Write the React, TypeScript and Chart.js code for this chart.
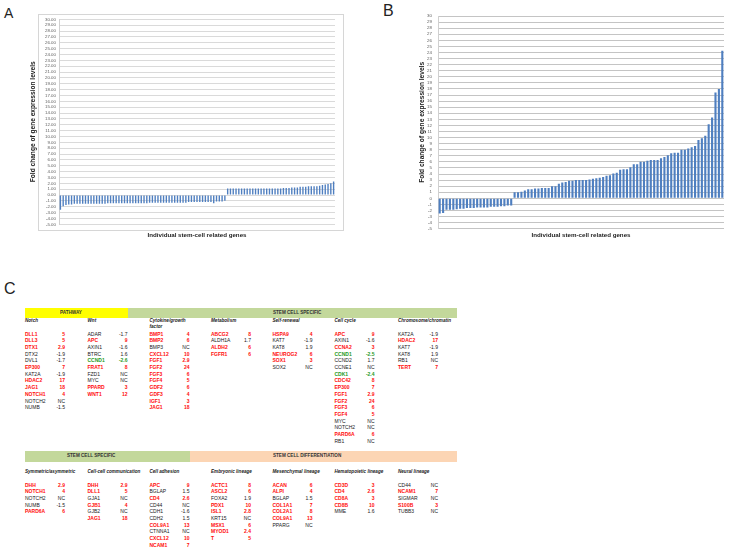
import React, { useEffect, useRef } from "react";
import { Chart, registerables } from "chart.js";

Chart.register(...registerables);

// ---------- DATA: panel A (fold changes, sorted) ----------
const aNegative = [
  -2.5, -1.9, -1.7, -1.6, -1.6, -1.5, -1.5, -1.5, -1.5, -1.5, -1.5, -1.5, -1.5, -1.5, -1.5,
  -1.5, -1.5, -1.4, -1.4, -1.4, -1.4, -1.4, -1.4, -1.4, -1.4, -1.4, -1.4, -1.4, -1.4, -1.4,
  -1.4, -1.4, -1.3, -1.3, -1.3, -1.3, -1.3, -1.3, -1.3, -1.3, -1.3, -1.3, -1.3, -1.3, -1.3,
  -1.3, -1.2, -1.2, -1.2, -1.2, -1.2, -1.2, -1.2, -1.2, -1.2, -1.4, -1.1, -1.1, -1.1, -1.0,
];
const aPositive = [
  1.1, 1.1, 1.1, 1.1, 1.1, 1.1, 1.1, 1.1, 1.1, 1.1, 1.1, 1.1, 1.1, 1.1, 1.1, 1.1, 1.1, 1.1,
  1.1, 1.1, 1.2, 1.2, 1.2, 1.3, 1.3, 1.3, 1.4, 1.4, 1.4, 1.5, 1.5, 1.5, 1.5, 1.6, 1.7, 1.8,
  1.9, 2.0, 2.3,
];

// ---------- DATA: panel B ----------
const bNegative = [
  -2.5, -2.4, -1.9, -1.9, -1.9, -1.8, -1.7, -1.7, -1.6, -1.6, -1.6, -1.5, -1.5, -1.5, -1.5,
  -1.4, -1.4, -1.4, -1.3, -1.3, -1.2, -1.2,
];
const bPositive = [
  1.0, 1.0, 1.1, 1.3, 1.5, 1.5, 1.6, 1.6, 1.7, 1.7, 1.7, 2.0, 2.0, 2.4, 2.6, 2.7, 2.9, 2.9,
  3.0, 3.0, 3.0, 3.0, 3.1, 3.2, 3.3, 3.4, 3.5, 3.7, 3.8, 4.1, 4.2, 4.7, 4.8, 4.8, 5.1, 5.6,
  5.6, 6.0, 6.0, 6.2, 6.3, 6.3, 6.3, 6.6, 6.8, 7.1, 7.4, 7.5, 7.5, 8.0, 8.0, 8.2, 8.4, 8.6,
  9.6, 9.9, 10.3, 12.2, 13.3, 17.4, 18.0, 24.3,
];

const yMin = -5;
const yMax = 30;
const yTitle = "Fold change of gene expression levels";
const xTitle = "Individual stem-cell related genes";

// ---------- DATA: panel C table ----------
type Row = [string, string, string]; // gene, value, colour: r / g / k
const notch: Row[] = [
  ["DLL1", "5", "r"], ["DLL3", "5", "r"], ["DTX1", "2.9", "r"], ["DTX2", "-1.9", "k"],
  ["DVL1", "-1.7", "k"], ["EP300", "7", "r"], ["KAT2A", "-1.9", "k"], ["HDAC2", "17", "r"],
  ["JAG1", "18", "r"], ["NOTCH1", "4", "r"], ["NOTCH2", "NC", "k"], ["NUMB", "-1.5", "k"],
];
const wnt: Row[] = [
  ["ADAR", "-1.7", "k"], ["APC", "9", "r"], ["AXIN1", "-1.6", "k"], ["BTRC", "1.6", "k"],
  ["CCND1", "-2.6", "g"], ["FRAT1", "8", "r"], ["FZD1", "NC", "k"], ["MYC", "NC", "k"],
  ["PPARD", "3", "r"], ["WNT1", "12", "r"],
];
const cytokine: Row[] = [
  ["BMP1", "4", "r"], ["BMP2", "6", "r"], ["BMP3", "NC", "k"], ["CXCL12", "10", "r"],
  ["FGF1", "2.9", "r"], ["FGF2", "24", "r"], ["FGF3", "6", "r"], ["FGF4", "5", "r"],
  ["GDF2", "6", "r"], ["GDF3", "4", "r"], ["IGF1", "3", "r"], ["JAG1", "18", "r"],
];
const metabolism: Row[] = [
  ["ABCG2", "8", "r"], ["ALDH1A", "1.7", "k"], ["ALDH2", "6", "r"], ["FGFR1", "6", "r"],
];
const selfRenewal: Row[] = [
  ["HSPA9", "4", "r"], ["KAT7", "-1.9", "k"], ["KAT8", "1.9", "k"], ["NEUROG2", "6", "r"],
  ["SOX1", "3", "r"], ["SOX2", "NC", "k"],
];
const cellCycle: Row[] = [
  ["APC", "9", "r"], ["AXIN1", "-1.6", "k"], ["CCNA2", "3", "r"], ["CCND1", "-2.5", "g"],
  ["CCND2", "1.7", "k"], ["CCNE1", "NC", "k"], ["CDK1", "-2.4", "g"], ["CDC42", "8", "r"],
  ["EP300", "7", "r"], ["FGF1", "2.9", "r"], ["FGF2", "24", "r"], ["FGF3", "6", "r"],
  ["FGF4", "5", "r"], ["MYC", "NC", "k"], ["NOTCH2", "NC", "k"], ["PARD6A", "6", "r"],
  ["RB1", "NC", "k"],
];
const chromatin: Row[] = [
  ["KAT2A", "-1.9", "k"], ["HDAC2", "17", "r"], ["KAT7", "-1.9", "k"], ["KAT8", "1.9", "k"],
  ["RB1", "NC", "k"], ["TERT", "7", "r"],
];
const symmetric: Row[] = [
  ["DHH", "2.9", "r"], ["NOTCH1", "4", "r"], ["NOTCH2", "NC", "k"], ["NUMB", "-1.5", "k"],
  ["PARD6A", "6", "r"],
];
const cellComm: Row[] = [
  ["DHH", "2.9", "r"], ["DLL1", "5", "r"], ["GJA1", "NC", "k"], ["GJB1", "4", "r"],
  ["GJB2", "NC", "k"], ["JAG1", "18", "r"],
];
const adhesion: Row[] = [
  ["APC", "9", "r"], ["BGLAP", "1.5", "k"], ["CD4", "2.6", "r"], ["CD44", "NC", "k"],
  ["CDH1", "-1.6", "k"], ["CDH2", "1.5", "k"], ["COL9A1", "13", "r"], ["CTNNA1", "NC", "k"],
  ["CXCL12", "10", "r"], ["NCAM1", "7", "r"],
];
const embryonic: Row[] = [
  ["ACTC1", "8", "r"], ["ASCL2", "6", "r"], ["FOXA2", "1.9", "k"], ["PDX1", "10", "r"],
  ["ISL1", "2.8", "r"], ["KRT15", "NC", "k"], ["MSX1", "6", "r"], ["MYOD1", "2.4", "r"],
  ["T", "5", "r"],
];
const mesenchymal: Row[] = [
  ["ACAN", "6", "r"], ["ALPI", "4", "r"], ["BGLAP", "1.5", "k"], ["COL1A1", "7", "r"],
  ["COL2A1", "8", "r"], ["COL9A1", "13", "r"], ["PPARG", "NC", "k"],
];
const hematopoietic: Row[] = [
  ["CD3D", "3", "r"], ["CD4", "2.6", "r"], ["CD8A", "3", "r"], ["CD8B", "10", "r"],
  ["MME", "1.6", "k"],
];
const neural: Row[] = [
  ["CD44", "NC", "k"], ["NCAM1", "7", "r"], ["SIGMAR", "NC", "k"], ["S100B", "3", "r"],
  ["TUBB3", "NC", "k"],
];

const block1Titles = [["Notch"], ["Wnt"], ["Cytokine/growth", "factor"], ["Metabolism"], ["Self-renewal"], ["Cell cycle"], ["Chromosome/chromatin"]];
const block1Rows = [notch, wnt, cytokine, metabolism, selfRenewal, cellCycle, chromatin];
const block2Titles = [["Symmetric/asymmetric"], ["Cell-cell communication"], ["Cell adhesion"], ["Embryonic lineage"], ["Mesenchymal lineage"], ["Hematopoietic lineage"], ["Neural lineage"]];
const block2Rows = [symmetric, cellComm, adhesion, embryonic, mesenchymal, hematopoietic, neural];

// ---------- STYLE ----------
const BAR = "#4f7fc0";
const FONT = "'Liberation Sans', Arial, sans-serif";
const COLS = [25, 87.5, 149.5, 211, 272.5, 334.5, 398];
const COLORS: Record<string, string> = { r: "#ff0d0d", g: "#1e9a1e", k: "#1a1a1a" };

type ChartSpec = {
  values: number[];
  w: number; h: number;
  pad: { left: number; right: number; top: number; bottom: number };
  yW: number; xH: number;
  barPct: number;
  gridColor: string;
  tickPad: number;
  fmt: (v: number) => string;
};

function BarChart({ spec, style }: { spec: ChartSpec; style: React.CSSProperties }) {
  const ref = useRef<HTMLCanvasElement | null>(null);
  useEffect(() => {
    if (!ref.current) return;
    const chart = new Chart(ref.current, {
      type: "bar",
      data: {
        labels: spec.values.map((_, i) => String(i + 1)),
        datasets: [
          {
            data: spec.values,
            backgroundColor: BAR,
            borderWidth: 0,
            barPercentage: spec.barPct,
            categoryPercentage: 1,
          },
        ],
      },
      options: {
        animation: false,
        responsive: false,
        maintainAspectRatio: false,
        layout: { padding: spec.pad },
        plugins: { legend: { display: false }, tooltip: { enabled: false } },
        scales: {
          x: {
            grid: { display: false, drawTicks: false },
            border: { display: false },
            ticks: { display: false },
            title: {
              display: true,
              text: xTitle,
              color: "#222",
              font: { family: FONT, size: 6.2, weight: "bold" },
              padding: 0,
            },
            afterFit: (s: any) => {
              s.height = spec.xH;
            },
          },
          y: {
            min: yMin,
            max: yMax,
            ticks: {
              stepSize: 1,
              autoSkip: false,
              color: "#606060",
              font: { family: FONT, size: 4.4 },
              padding: spec.tickPad,
              callback: (v: any) => spec.fmt(Number(v)),
            },
            grid: { color: spec.gridColor, lineWidth: 1, drawTicks: false },
            border: { display: true, color: "#d0d0d0" },
            title: {
              display: true,
              text: yTitle,
              color: "#222",
              font: { family: FONT, size: 6.6, weight: "bold" },
              padding: 0,
            },
            afterFit: (s: any) => {
              s.width = spec.yW;
            },
          },
        },
      },
    } as any);
    return () => chart.destroy();
  }, [spec]);
  return <canvas ref={ref} width={spec.w} height={spec.h} style={{ position: "absolute", width: spec.w, height: spec.h, ...style }} />;
}

const specA: ChartSpec = {
  values: [...aNegative, ...aPositive],
  w: 330, h: 240,
  pad: { left: 9, right: 15, top: 11.3, bottom: 9.4 },
  yW: 30, xH: 14.3,
  barPct: 0.5,
  gridColor: "#dadada",
  tickPad: 3,
  fmt: (v) => v.toFixed(2),
};
const specB: ChartSpec = {
  values: [...bNegative, ...bPositive],
  w: 329, h: 244,
  pad: { left: 18, right: 5, top: 12, bottom: 9.4 },
  yW: 20, xH: 9.9,
  barPct: 0.62,
  gridColor: "#c4c4c4",
  tickPad: 6,
  fmt: (v) => String(v),
};

function T({ x, cy, fs, children, style }: { x: number; cy: number; fs: number; children: React.ReactNode; style?: React.CSSProperties }) {
  return (
    <div style={{ position: "absolute", left: x, top: cy - fs / 2, fontSize: fs, lineHeight: fs + "px", whiteSpace: "nowrap", fontFamily: FONT, ...style }}>
      {children}
    </div>
  );
}

function Block({ titles, rows, subY, rowY0 }: { titles: string[][]; rows: Row[][]; subY: number; rowY0: number }) {
  const step = 6.67;
  const out: React.ReactNode[] = [];
  titles.forEach((t, ci) => {
    t.forEach((line, li) => {
      out.push(
        <T key={`t${ci}-${li}`} x={COLS[ci]} cy={subY + li * 5.6} fs={4.6} style={{ fontWeight: "bold", fontStyle: "italic", color: "#222" }}>
          {line}
        </T>
      );
    });
  });
  rows.forEach((col, ci) => {
    col.forEach(([g, v, c], ri) => {
      const cy = rowY0 + ri * step;
      const bold = c !== "k";
      const st: React.CSSProperties = { color: COLORS[c], fontWeight: bold ? "bold" : "normal" };
      out.push(
        <T key={`g${ci}-${ri}`} x={COLS[ci]} cy={cy} fs={5} style={st}>
          {g}
        </T>
      );
      out.push(
        <T key={`v${ci}-${ri}`} x={COLS[ci]} cy={cy} fs={5} style={{ ...st, width: 40, textAlign: "right" }}>
          {v}
        </T>
      );
    });
  });
  return <>{out}</>;
}

function Bar({ x1, x2, y, h, color }: { x1: number; x2: number; y: number; h: number; color: string }) {
  return <div style={{ position: "absolute", left: x1, top: y, width: x2 - x1, height: h, background: color }} />;
}

export default function App() {
  const hdr: React.CSSProperties = { fontWeight: "bold", color: "#333" };
  return (
    <div style={{ position: "absolute", left: 0, top: 0, width: 729, height: 551, background: "#fff", overflow: "hidden", fontFamily: FONT }}>
      {/* panel letters */}
      <div style={{ position: "absolute", left: 4, top: 6.2, fontSize: 14, lineHeight: "14px", color: "#222" }}>A</div>
      <div style={{ position: "absolute", left: 383, top: 3, fontSize: 16, lineHeight: "16px", color: "#222" }}>B</div>
      <div style={{ position: "absolute", left: 4, top: 281, fontSize: 16, lineHeight: "16px", color: "#222" }}>C</div>

      {/* panel A */}
      <div style={{ position: "absolute", left: 38, top: 14, width: 304, height: 215, border: "1px solid #d6d6d6" }} />
      <BarChart spec={specA} style={{ left: 20, top: 8 }} />

      {/* panel B */}
      <BarChart spec={specB} style={{ left: 400, top: 4 }} />

      {/* panel C, block 1 */}
      <Bar x1={25} x2={128} y={308} h={10} color="#ffff00" />
      <Bar x1={128} x2={457} y={308} h={10} color="#c3d89b" />
      <T x={60} cy={313} fs={4.6} style={hdr}>PATHWAY</T>
      <T x={273} cy={313} fs={4.6} style={hdr}>STEM CELL SPECIFIC</T>
      <Block titles={block1Titles} rows={block1Rows} subY={321.7} rowY0={334.3} />

      {/* panel C, block 2 */}
      <Bar x1={25} x2={190} y={451} h={10.7} color="#c3d89b" />
      <Bar x1={190} x2={457} y={451} h={10.7} color="#fcd5b4" />
      <T x={67} cy={456.3} fs={4.6} style={hdr}>STEM CELL SPECIFIC</T>
      <T x={273} cy={456.3} fs={4.6} style={hdr}>STEM CELL DIFFERENTIATION</T>
      <Block titles={block2Titles} rows={block2Rows} subY={472} rowY0={485} />
    </div>
  );
}
